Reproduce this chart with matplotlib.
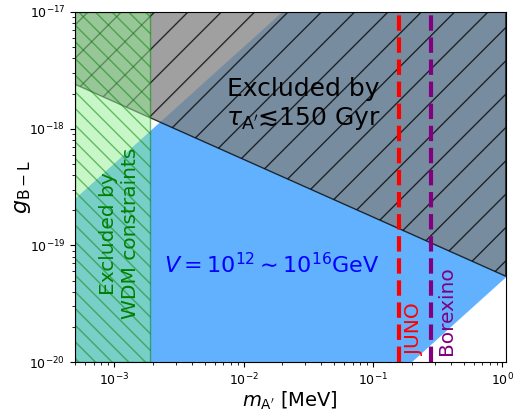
import numpy as np
import matplotlib.pyplot as plt

# masses at the two edges of the plot [MeV]
m_edges = [5e-4, 1.06]

# lifetime bound tau_A' = 150 Gyr
g_tau = [2.4e-18, 5.44e-20]
g_top = [1e-17, 1e-17]

# V = 10^12 ... 10^16 GeV band
g_V12 = [2.5e-19, 5.3e-16]
g_V16 = [2.5e-23, 5.3e-20]

# WDM bound
m_wdm = [5e-4, 1.9e-3]

# experiments
m_juno = 0.16
m_borexino = 0.28

fig = plt.figure(figsize=(5.14, 4.11), dpi=100)
ax = fig.add_axes([0.146, 0.119, 0.838, 0.852])

# V band
ax.fill_between(m_edges, g_V16, g_V12, color='dodgerblue', alpha=0.7, lw=0)

# lifetime
ax.fill_between(m_edges, g_tau, g_top, facecolor='grey', edgecolor='black',
                alpha=0.75, hatch='/', lw=1)

# WDM
ax.axvspan(m_wdm[0], m_wdm[1], facecolor='lightgreen', edgecolor='green',
           alpha=0.5, hatch='\\\\', lw=1)

ax.axvline(m_juno, color='red', ls='--', lw=3)
ax.axvline(m_borexino, color='purple', ls='--', lw=3)

ax.text(0.029, 1.6e-18, 'Excluded by\n$\\tau_{\\rm A\'}$≲150 Gyr',
        fontsize=18, ha='center', va='center', multialignment='center')
ax.text(0.0165, 6.8e-20, '$V=10^{12}\\sim10^{16}$GeV', color='blue',
        fontsize=16, ha='center', va='center')
ax.text(1.1e-3, 1.26e-19, 'Excluded by\nWDM constraints', color='green',
        fontsize=14.5, rotation=90, ha='center', va='center',
        multialignment='center')
ax.text(0.21, 1.15e-20, 'JUNO', color='red', fontsize=14.5, rotation=90,
        ha='center', va='bottom')
ax.text(0.37, 1.15e-20, 'Borexino', color='purple', fontsize=14.5,
        rotation=90, ha='center', va='bottom')

ax.set_xscale('log')
ax.set_yscale('log')
ax.set_xlim(m_edges)
ax.set_ylim(1e-20, 1e-17)
ax.tick_params(labelsize=9)
ax.set_xlabel("$m_{\\rm A'}$ [MeV]", fontsize=14)
ax.set_ylabel('$g_{\\rm B-L}$', fontsize=16)
ax.xaxis.set_label_coords(0.5, -0.078)
ax.yaxis.set_label_coords(-0.098, 0.5)

fig.savefig('out.png', dpi=100)
